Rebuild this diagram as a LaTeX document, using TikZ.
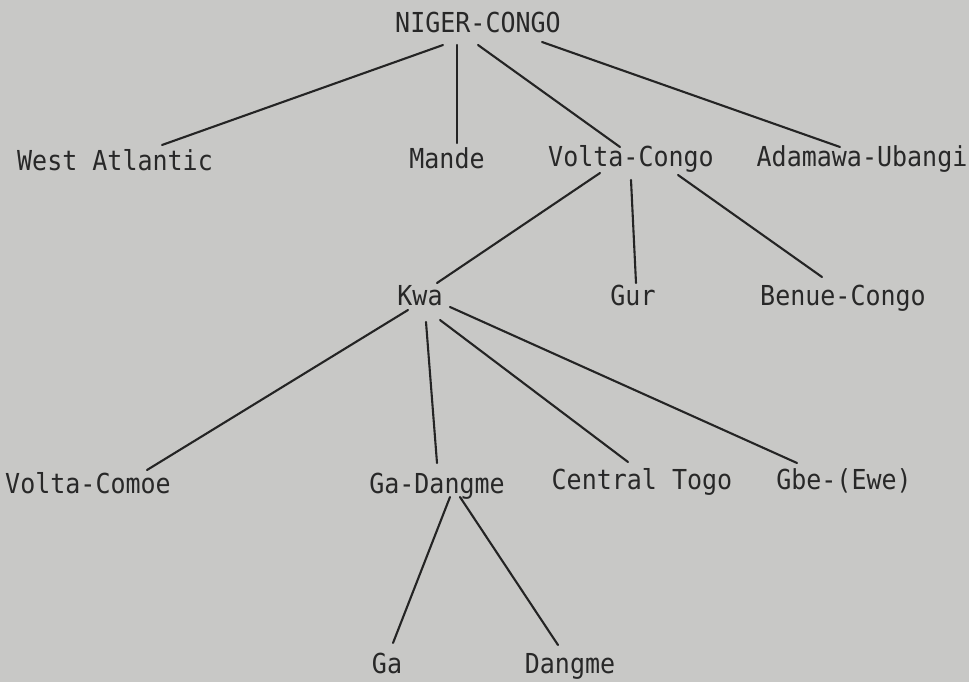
\documentclass[tikz,border=0pt]{standalone}
\usepackage{fontspec}
\setmonofont{DejaVu Sans Mono}
\usetikzlibrary{calc}
\definecolor{paper}{RGB}{200,200,198}
\definecolor{ink}{RGB}{40,40,40}
\definecolor{rule}{RGB}{36,36,36}
% typewriter face, slightly taller than the stock glyphs
\newcommand{\tw}[1]{\scalebox{1}[1.1]{#1}}
\tikzset{
  lang/.style={anchor=base, inner sep=0pt, text=ink,
    font=\ttfamily\fontsize{25}{25}\selectfont},
  branch/.style={draw=rule, line width=2.1pt, line cap=round}
}
\begin{document}
\begin{tikzpicture}[x=1pt, y=-1pt]
  % page
  \fill[paper] (0,0) rectangle (969,682);
  \useasboundingbox (0,0) rectangle (969,682);

  % family tree labels
  \node[lang] (nc)  at (478,33)  {\tw{NIGER-CONGO}};
  \node[lang] (wa)  at (115,170) {\tw{West Atlantic}};
  \node[lang] (ma)  at (447,168) {\tw{Mande}};
  \node[lang] (vc)  at (631,167) {\tw{Volta-Congo}};
  \node[lang] (au)  at (862,167) {\tw{Adamawa-Ubangi}};
  \node[lang] (kwa) at (420,305) {\tw{Kwa}};
  \node[lang] (gur) at (633,305) {\tw{Gur}};
  \node[lang] (bc)  at (843,305) {\tw{Benue-Congo}};
  \node[lang] (vco) at (88,493)  {\tw{Volta-Comoe}};
  \node[lang] (gd)  at (437,493) {\tw{Ga-Dangme}};
  \node[lang] (ct)  at (642,489) {\tw{Central Togo}};
  \node[lang] (gbe) at (844,489) {\tw{Gbe-(Ewe)}};
  \node[lang] (ga)  at (387,673) {\tw{Ga}};
  \node[lang] (dg)  at (570,673) {\tw{Dangme}};

  % branches from Niger-Congo
  \draw[branch] ($(nc.base)+(-35,12)$) -- ($(wa.base)+(47,-25)$);
  \draw[branch] ($(nc.base)+(-21,12)$) -- ($(ma.base)+(10,-25)$);
  \draw[branch] ($(nc.base)+(0,12)$)   -- ($(vc.base)+(-11,-20)$);
  \draw[branch] ($(nc.base)+(64,9)$)   -- ($(au.base)+(-22,-20)$);

  % branches from Volta-Congo
  \draw[branch] ($(vc.base)+(-31,6)$) -- ($(kwa.base)+(17,-22)$);
  \draw[branch] ($(vc.base)+(0,13)$)  -- ($(gur.base)+(3,-22)$);
  \draw[branch] ($(vc.base)+(47,8)$)  -- ($(bc.base)+(-21,-28)$);

  % branches from Kwa
  \draw[branch] ($(kwa.base)+(-12,5)$) -- ($(vco.base)+(59,-23)$);
  \draw[branch] ($(kwa.base)+(6,17)$)  -- ($(gd.base)+(0,-30)$);
  \draw[branch] ($(kwa.base)+(20,15)$) -- ($(ct.base)+(-14,-27)$);
  \draw[branch] ($(kwa.base)+(30,2)$)  -- ($(gbe.base)+(-47,-26)$);

  % branches from Ga-Dangme
  \draw[branch] ($(gd.base)+(13,4)$) -- ($(ga.base)+(6,-30)$);
  \draw[branch] ($(gd.base)+(23,4)$) -- ($(dg.base)+(-12,-28)$);
\end{tikzpicture}
\end{document}
